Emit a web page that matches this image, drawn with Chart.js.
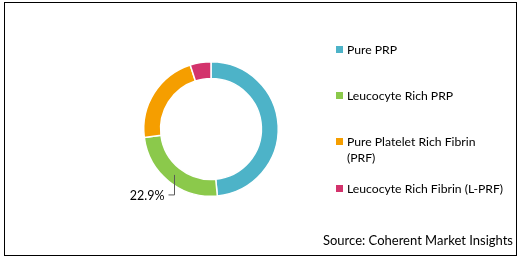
<!DOCTYPE html>
<html>
<head>
<meta charset="utf-8">
<script src="https://cdn.jsdelivr.net/npm/chart.js@4.4.1/dist/chart.umd.min.js"></script>
<style>
  html, body { margin: 0; padding: 0; background: #fff; }
  body { width: 520px; height: 260px; position: relative; overflow: hidden; font-family: Lato, "Liberation Sans", sans-serif; color: #000; }
  #frame { position: absolute; left: 4px; top: 2px; width: 511px; height: 252px; border: 1.5px solid #000; }
  #wrap { position: absolute; left: 0; top: 0; width: 520px; height: 260px; }
  #legend { position: absolute; left: 336px; top: 0; width: 180px; }
  .item { position: absolute; left: 0; width: 175px; font-size: 12.2px; line-height: 16px; }
  .sw { position: absolute; left: 0; top: 4px; width: 7px; height: 7px; }
  .tx { position: absolute; left: 11px; width: 157px; }
  #source { position: absolute; right: 7px; top: 232px; font-size: 13px; line-height: 16px; }
</style>
</head>
<body>
<div id="frame"></div>
<div id="wrap"><canvas id="c" width="520" height="260"></canvas></div>
<div id="legend"></div>
<div id="source">Source: Coherent Market Insights</div>
<script>
const categories = ['Pure PRP', 'Leucocyte Rich PRP', 'Pure Platelet Rich Fibrin (PRF)', 'Leucocyte Rich Fibrin (L-PRF)'];
const shares = [48.5, 24.5, 22.0, 5.0];
const shownLabels = [null, '22.9%', null, null];
const colors = ['#4DB3C8', '#8BC94B', '#F59E00', '#D3336C'];

const legendTops = [42, 88, 134, 181];
const legend = document.getElementById('legend');
categories.forEach((name, i) => {
  const it = document.createElement('div');
  it.className = 'item';
  it.style.top = legendTops[i] + 'px';
  const sw = document.createElement('div');
  sw.className = 'sw';
  sw.style.background = colors[i];
  const tx = document.createElement('div');
  tx.className = 'tx';
  tx.textContent = name;
  it.appendChild(sw); it.appendChild(tx);
  legend.appendChild(it);
});

const leaderPlugin = {
  id: 'leader',
  afterDatasetsDraw(chart) {
    const ctx = chart.ctx;
    const meta = chart.getDatasetMeta(0);
    meta.data.forEach((arc, i) => {
      const txt = shownLabels[i];
      if (!txt) return;
      const p = arc.getCenterPoint();
      const x = Math.round(p.x) + 0.5;
      const y0 = p.y;
      const y1 = p.y + 20;
      ctx.save();
      ctx.strokeStyle = '#595959';
      ctx.lineWidth = 1;
      ctx.beginPath();
      ctx.moveTo(x, y0);
      ctx.lineTo(x, y1);
      ctx.lineTo(x - 6, y1);
      ctx.stroke();
      ctx.fillStyle = '#000';
      ctx.font = '12.5px Lato, "Liberation Sans", sans-serif';
      ctx.textAlign = 'right';
      ctx.textBaseline = 'middle';
      ctx.fillText(txt, x - 10, y1 + 1);
      ctx.restore();
    });
  }
};

new Chart(document.getElementById('c'), {
  type: 'doughnut',
  data: {
    labels: categories,
    datasets: [{
      data: shares,
      backgroundColor: colors,
      borderColor: '#ffffff',
      borderWidth: 1.5,
      hoverOffset: 0
    }]
  },
  options: {
    responsive: false,
    animation: false,
    cutout: '75%',
    layout: { padding: { left: 143, top: 61, right: 520 - 143 - 136, bottom: 260 - 61 - 136 } },
    plugins: { legend: { display: false }, tooltip: { enabled: false } }
  },
  plugins: [leaderPlugin]
});
</script>
</body>
</html>
